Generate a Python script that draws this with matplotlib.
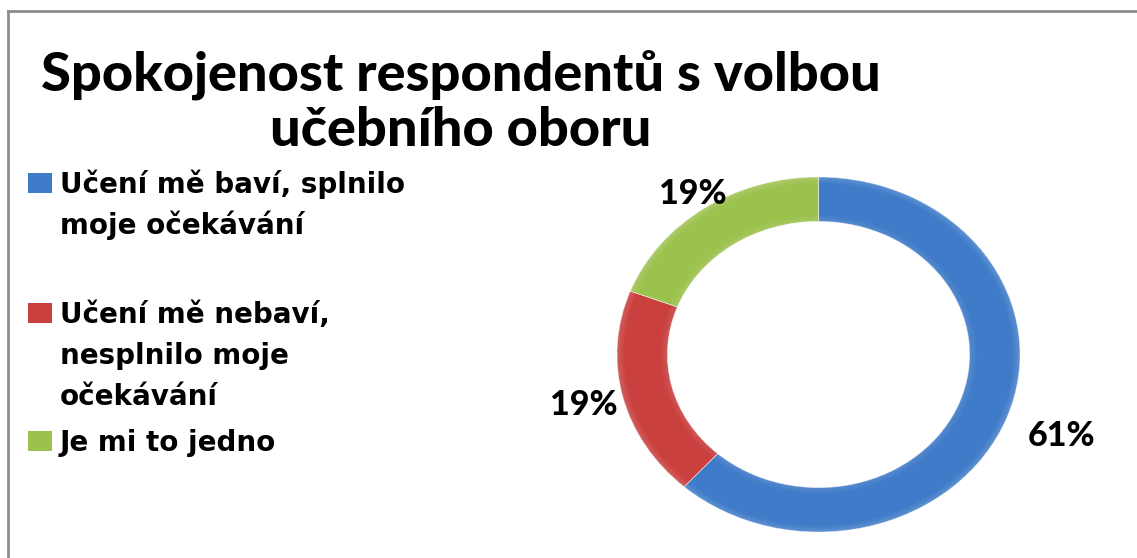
import numpy as np
import matplotlib
matplotlib.use("Agg")
import matplotlib.pyplot as plt
from matplotlib.patches import Rectangle, Wedge
from matplotlib.lines import Line2D

# ---- data ----
categories = ["Učení mě baví, splnilo\nmoje očekávání",
              "Učení mě nebaví,\nnesplnilo moje\nočekávání",
              "Je mi to jedno"]
values = [61, 19, 19]
colors = ["#3F7BC8", "#C9403E", "#9CC24E"]
title_lines = ["Spokojenost respondentů s volbou", "učebního oboru"]

W, H = 1137, 558
fig = plt.figure(figsize=(W / 100, H / 100), dpi=100)
fig.patch.set_facecolor("white")

# outer chart-area border (only top and left are visible)
fig.add_artist(Line2D([8 / W, 1.0], [1 - 11 / H, 1 - 11 / H], transform=fig.transFigure,
                      color="#8c8c8c", linewidth=2))
fig.add_artist(Line2D([8 / W, 8 / W], [0.0, 1 - 11 / H], transform=fig.transFigure,
                      color="#8c8c8c", linewidth=2))

# title
for line, base in zip(title_lines, [90, 146]):
    fig.text(461 / W, 1 - base / H, line, ha="center", va="baseline", fontsize=39,
             fontfamily="Lato", fontweight="black")

# donut
ax = fig.add_axes([617 / W, (H - 532) / H, 403 / W, 355 / H])
wedges, _ = ax.pie(values, radius=1, startangle=90, counterclock=False, colors=colors,
                   wedgeprops=dict(width=0.25, edgecolor="none", linewidth=0))
ax.set_aspect("auto")
ax.set_xlim(-1, 1)
ax.set_ylim(-1, 1)
ax.axis("off")

# soft bevel-like shading on every segment
steps = 6
for w in wedges:
    t1, t2 = w.theta1, w.theta2
    for k in range(steps):
        a = 0.16 * (1 - k / steps)
        ax.add_patch(Wedge((0, 0), 1.0 - k * 0.006, t1, t2, width=0.006, facecolor="white",
                           alpha=a, edgecolor="none"))
        ax.add_patch(Wedge((0, 0), 0.756 + k * 0.006, t1, t2, width=0.006, facecolor="white",
                           alpha=a * 0.7, edgecolor="none"))
    ax.add_patch(Wedge((0, 0), 1.0, t1, t2, width=0.25, facecolor="none",
                       edgecolor="#ffffff", linewidth=0.5, alpha=0.5))

label_r = [1.29, 1.20, 1.10]
for w, v, r in zip(wedges, values, label_r):
    mid = np.deg2rad((w.theta1 + w.theta2) / 2)
    ax.text(r * np.cos(mid), r * np.sin(mid), f"{v}%", ha="center", va="center",
            fontsize=24.5, fontfamily="Lato", fontweight="black", clip_on=False)

# legend (drawn manually to mimic the spreadsheet layout)
marker_bottom = [193, 323, 451]
line_step = 41
for lab, col, yb in zip(categories, colors, marker_bottom):
    fig.add_artist(Rectangle((28 / W, 1 - yb / H), 24 / W, 20 / H,
                             transform=fig.transFigure, facecolor=col, edgecolor="none"))
    for i, ln in enumerate(lab.split("\n")):
        fig.text(60 / W, 1 - (yb + i * line_step) / H, ln, ha="left", va="baseline",
                 fontsize=20, fontfamily="DejaVu Sans", fontweight="bold")

fig.savefig("out.png", dpi=100, facecolor="white")
